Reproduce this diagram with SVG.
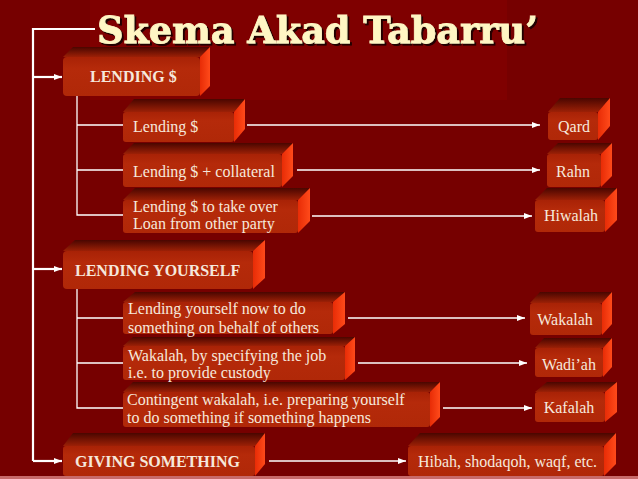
<svg xmlns="http://www.w3.org/2000/svg" width="638" height="479" viewBox="0 0 638 479">
<defs>
<linearGradient id="gTop" x1="0" y1="0" x2="0" y2="1">
<stop offset="0" stop-color="#4a0600"/>
<stop offset="1" stop-color="#9c2006"/>
</linearGradient>
<linearGradient id="gSide" x1="0" y1="0" x2="1" y2="0">
<stop offset="0" stop-color="#e82c06"/>
<stop offset="1" stop-color="#ff4a1a"/>
</linearGradient>
<linearGradient id="gFront" x1="0" y1="0" x2="0" y2="1">
<stop offset="0" stop-color="#a82206"/>
<stop offset="0.3" stop-color="#b52a0a"/>
<stop offset="1" stop-color="#b02808"/>
</linearGradient>
<filter id="shadow" x="-5%" y="-20%" width="110%" height="150%">
<feDropShadow dx="2" dy="2" stdDeviation="0.6" flood-color="#200000" flood-opacity="1"/>
</filter>
<marker id="ah" markerUnits="userSpaceOnUse" markerWidth="8" markerHeight="6" refX="8" refY="3" orient="auto">
<path d="M0,0 L8,3 L0,6 z" fill="#ffffff"/>
</marker>
</defs>
<style>
.top{fill:url(#gTop)}
.side{fill:url(#gSide)}
.front{fill:url(#gFront)}
.t{font-family:"Liberation Serif","Times New Roman",serif;font-size:16px;fill:#f6e8dc}
.b{font-weight:bold}
.c{text-anchor:middle}
.ln{fill:none;stroke:#ffffff;stroke-width:1.3}
.main{fill:none;stroke:#ffffff;stroke-width:2.2}
.arr{fill:none;stroke:#ffffff;stroke-width:1.3;marker-end:url(#ah)}
.title{font-family:"DejaVu Serif","Liberation Serif",serif;font-weight:bold;font-size:37px;fill:#fff6c4;stroke:#fff6c4;stroke-width:0.8;filter:url(#shadow)}
</style>
<rect x="0" y="0" width="638" height="479" fill="#760000"/>
<rect x="90" y="0" width="417" height="100" fill="#7f0000"/>
<rect x="0" y="476" width="638" height="3" fill="#c86a6a"/>

<g id="title">
<text class="title" x="97" y="43" textLength="441" lengthAdjust="spacingAndGlyphs">Skema Akad Tabarru’</text>
</g>

<g id="connectors">
<path class="main" d="M95,29 H33 V461"/>
<path class="arr" style="stroke-width:2.2" d="M33,77 H62"/>
<path class="arr" style="stroke-width:2.2" d="M33,269 H62"/>
<path class="arr" style="stroke-width:2.2" d="M33,461 H62"/>
<path class="ln" d="M77,96 V215 H123 M77,125 H123 M77,170 H123"/>
<path class="ln" d="M77,289 V408 H123 M77,318 H123 M77,363 H123"/>
<path class="arr" d="M247,125 H540"/>
<path class="arr" d="M297,170 H540"/>
<path class="arr" d="M312,216 H532"/>
<path class="arr" d="M348,318 H525"/>
<path class="arr" d="M358,363 H527"/>
<path class="arr" d="M443,408 H532"/>
<path class="arr" d="M269,461 H406"/>
</g>

<g id="lending-money">
<polygon class="top" points="63,57 73,47 210,47 200,57"/>
<polygon class="side" points="200,57 210,47 210,86 200,96"/>
<rect class="front" x="63" y="57" width="137" height="39" rx="4"/>
<text class="t b" x="90" y="82">LENDING $</text>
</g>

<g id="lending-1">
<polygon class="top" points="123,112 134,99 245,99 234,112"/>
<polygon class="side" points="234,112 245,99 245,129 234,142"/>
<rect class="front" x="123" y="112" width="111" height="30" rx="3"/>
<text class="t" x="133" y="132">Lending $</text>
</g>

<g id="lending-2">
<polygon class="top" points="123,154 134,143 293,143 282,154"/>
<polygon class="side" points="282,154 293,143 293,176 282,187"/>
<rect class="front" x="123" y="154" width="159" height="33" rx="3"/>
<text class="t" x="133" y="177">Lending $ + collateral</text>
</g>

<g id="lending-3">
<polygon class="top" points="123,200 135,188 310,188 298,200"/>
<polygon class="side" points="298,200 310,188 310,221 298,233"/>
<rect class="front" x="123" y="200" width="175" height="33" rx="3"/>
<text class="t" x="133" y="212">Lending $ to take over</text>
<text class="t" x="133" y="229">Loan from other party</text>
</g>

<g id="qard">
<polygon class="top" points="548,112 560,98 610,98 598,112"/>
<polygon class="side" points="598,112 610,98 610,126 598,140"/>
<rect class="front" x="548" y="112" width="50" height="28" rx="3"/>
<text class="t c" x="574" y="132">Qard</text>
</g>

<g id="rahn">
<polygon class="top" points="547,154 558,143 612,143 601,154"/>
<polygon class="side" points="601,154 612,143 612,176 601,187"/>
<rect class="front" x="547" y="154" width="54" height="33" rx="3"/>
<text class="t c" x="573" y="177">Rahn</text>
</g>

<g id="hiwalah">
<polygon class="top" points="535,200 547,188 617,188 605,200"/>
<polygon class="side" points="605,200 617,188 617,220 605,232"/>
<rect class="front" x="535" y="200" width="70" height="32" rx="3"/>
<text class="t c" x="571" y="221">Hiwalah</text>
</g>

<g id="lending-yourself">
<polygon class="top" points="63,251 75,240 265,240 253,251"/>
<polygon class="side" points="253,251 265,240 265,278 253,289"/>
<rect class="front" x="63" y="251" width="190" height="38" rx="4"/>
<text class="t b" x="75" y="276">LENDING YOURSELF</text>
</g>

<g id="yourself-1">
<polygon class="top" points="123,302 135,292 345,292 333,302"/>
<polygon class="side" points="333,302 345,292 345,324 333,334"/>
<rect class="front" x="123" y="302" width="210" height="32" rx="3"/>
<text class="t" x="128" y="314">Lending yourself now to do</text>
<text class="t" x="128" y="333">something on behalf of others</text>
</g>

<g id="yourself-2">
<polygon class="top" points="123,346 133,337 355,337 345,346"/>
<polygon class="side" points="345,346 355,337 355,371 345,380"/>
<rect class="front" x="123" y="346" width="222" height="34" rx="3"/>
<text class="t" x="128" y="361">Wakalah, by specifying the job</text>
<text class="t" x="128" y="378">i.e. to provide custody</text>
</g>

<g id="yourself-3">
<polygon class="top" points="123,392 133,382 440,382 430,392"/>
<polygon class="side" points="430,392 440,382 440,417 430,427"/>
<rect class="front" x="123" y="392" width="307" height="35" rx="3"/>
<text class="t" x="127" y="405">Contingent wakalah, i.e. preparing yourself</text>
<text class="t" x="127" y="423">to do something if something happens</text>
</g>

<g id="wakalah">
<polygon class="top" points="530,303 540,292 612,292 602,303"/>
<polygon class="side" points="602,303 612,292 612,324 602,335"/>
<rect class="front" x="530" y="303" width="72" height="32" rx="3"/>
<text class="t c" x="565" y="325">Wakalah</text>
</g>

<g id="wadiah">
<polygon class="top" points="535,348 544,338 612,338 603,348"/>
<polygon class="side" points="603,348 612,338 612,367 603,377"/>
<rect class="front" x="535" y="348" width="68" height="29" rx="3"/>
<text class="t c" x="569" y="370">Wadi’ah</text>
</g>

<g id="kafalah">
<polygon class="top" points="535,392 547,382 617,382 605,392"/>
<polygon class="side" points="605,392 617,382 617,412 605,422"/>
<rect class="front" x="535" y="392" width="70" height="30" rx="3"/>
<text class="t c" x="569" y="413">Kafalah</text>
</g>

<g id="giving-something">
<polygon class="top" points="63,446 73,433 265,433 255,446"/>
<polygon class="side" points="255,446 265,433 265,464 255,476"/>
<rect class="front" x="63" y="446" width="192" height="30" rx="3"/>
<text class="t b" x="75" y="467">GIVING SOMETHING</text>
</g>

<g id="hibah">
<polygon class="top" points="408,446 420,433 616,433 604,446"/>
<polygon class="side" points="604,446 616,433 616,464 604,476"/>
<rect class="front" x="408" y="446" width="196" height="30" rx="3"/>
<text class="t" x="418" y="467">Hibah, shodaqoh, waqf, etc.</text>
</g>
</svg>
